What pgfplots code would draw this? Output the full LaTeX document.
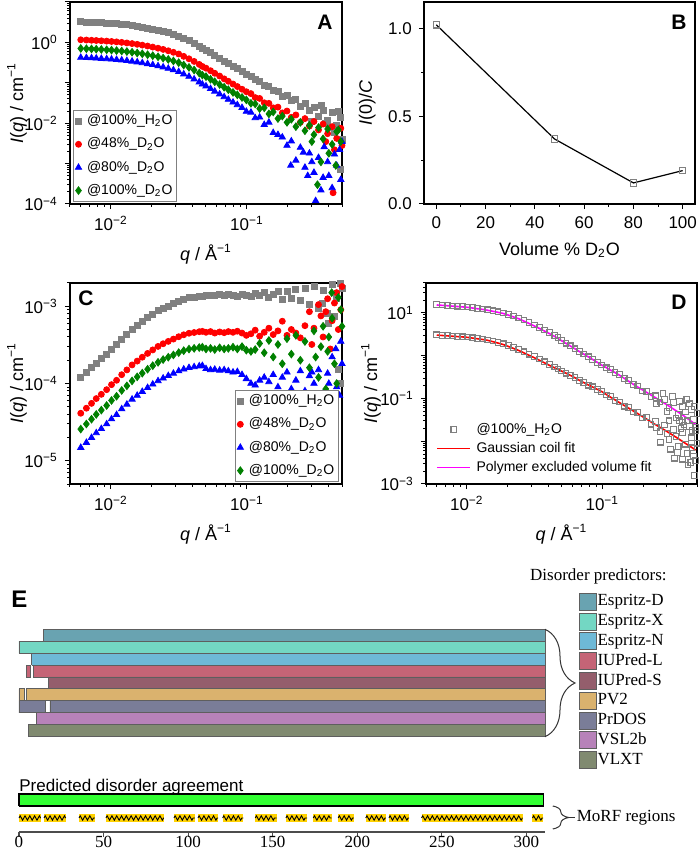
\documentclass[border=0pt]{standalone}
\usepackage{fontspec}
\setmainfont{Liberation Sans}
\newfontfamily\seriff{Liberation Serif}
\usepackage{pgfplots}
\pgfplotsset{compat=1.18}
\usetikzlibrary{decorations.pathreplacing,decorations.pathmorphing}

\definecolor{cgray}{RGB}{128,128,128}
\definecolor{cred}{RGB}{255,0,0}
\definecolor{cblue}{RGB}{0,0,255}
\definecolor{cgreen}{RGB}{0,128,0}
\definecolor{cmag}{RGB}{255,0,255}
\definecolor{espD}{HTML}{69A3B1}
\definecolor{espX}{HTML}{73D7C3}
\definecolor{espN}{HTML}{6EB9D7}
\definecolor{iupL}{HTML}{C56476}
\definecolor{iupS}{HTML}{945E6C}
\definecolor{pvtwo}{HTML}{DAB26E}
\definecolor{prdos}{HTML}{7A7D98}
\definecolor{vsl}{HTML}{B782B9}
\definecolor{vlxt}{HTML}{808A70}
\definecolor{barline}{HTML}{5E5E5E}
\definecolor{agree}{HTML}{32FF32}
\definecolor{morf}{HTML}{FFD200}

\pgfplotsset{
  panelstyle/.style={
    scale only axis, tick pos=left, tick align=outside,
    axis line style={line width=0.6pt},
    major tick length=2.6pt, minor tick length=1.5pt,
    every tick/.style={line width=0.5pt, black},
    tick label style={font=\fontsize{8.5}{10}\selectfont},
    label style={font=\fontsize{9}{11}\selectfont},
    legend cell align=left,
    legend style={font=\fontsize{7}{8}\selectfont,
      inner sep=1pt, nodes={inner sep=1.2pt},
      /tikz/every odd column/.append style={column sep=1.5pt}},
  },
  grayset/.style={only marks, mark=square*, mark size=1.5pt, color=cgray},
  redset/.style={only marks, mark=*, mark size=1.5pt, color=cred},
  blueset/.style={only marks, mark=triangle*, mark size=1.8pt, color=cblue},
  greenset/.style={only marks, mark=diamond*, mark size=1.9pt, color=cgreen},
  morfrow/.style={draw=morf, line width=4pt, forget plot,
    postaction={draw=black, line width=0.45pt, decorate,
      decoration={zigzag, segment length=2.4pt, amplitude=1.1pt}}},
}
\tikzset{
  panelletter/.style={inner sep=0pt, font=\bfseries\fontsize{10.5}{12}\selectfont},
  predbar/.style={draw=barline, line width=0.4pt, fill=#1},
}

\begin{document}
\begin{tikzpicture}
\path[use as bounding box] (0,0) rectangle (350pt,427.5pt);

% ---------------- A
\begin{axis}[panelstyle, at={(35pt,325.5pt)}, width=136pt, height=101pt,
  xmode=log, ymode=log, xmin=0.005, xmax=0.5, ymin=1e-4, ymax=10,
  xtick={0.01,0.1}, xticklabels={10\textsuperscript{−2},10\textsuperscript{−1}},
  minor xtick={0.005,0.006,0.007,0.008,0.009,0.02,0.03,0.04,0.05,0.06,0.07,0.08,0.09,0.2,0.3,0.4,0.5},
  ytick={1e-4,1e-3,1e-2,1e-1,1,10},
  yticklabels={10\textsuperscript{−4},,10\textsuperscript{−2},,10\textsuperscript{0},},
  minor ytick={2e-4,3e-4,4e-4,5e-4,6e-4,7e-4,8e-4,9e-4,2e-3,3e-3,4e-3,5e-3,6e-3,7e-3,8e-3,9e-3,
    0.02,0.03,0.04,0.05,0.06,0.07,0.08,0.09,0.2,0.3,0.4,0.5,0.6,0.7,0.8,0.9,2,3,4,5,6,7,8,9},
  xlabel={\textit{q} / Å\textsuperscript{−1}},
  ylabel={\textit{I}(\textit{q}) / cm\textsuperscript{−1}},
  ylabel style={at={(rel axis cs:-0.195,0.5)}, anchor=center},
  legend image code/.code={\draw[mark repeat=2,mark phase=2,#1] plot coordinates {(0pt,0pt)(3.5pt,0pt)(7pt,0pt)};},
  legend style={at={(0.011,0.01)}, anchor=south west, row sep=2.6pt, draw=cgray, line width=0.4pt, fill=white},
]
\addplot[grayset] coordinates {
(0.0060,3.25)(0.0066,3.21)(0.0072,3.16)(0.0078,3.12)(0.0085,3.07)(0.0093,3.01)(0.0101,2.95)(0.0110,2.88)
(0.0120,2.80)(0.0131,2.72)(0.0143,2.62)(0.0156,2.51)(0.0170,2.40)(0.0186,2.27)(0.0203,2.15)(0.0222,2.01)
(0.0242,1.88)(0.0264,1.74)(0.0288,1.59)(0.0315,1.44)(0.0343,1.26)(0.0375,1.10)(0.0409,0.948)(0.0446,0.798)
(0.0470,0.711)(0.050,0.640)(0.054,0.552)(0.058,0.476)(0.063,0.406)(0.068,0.346)(0.073,0.299)(0.079,0.255)
(0.085,0.221)(0.092,0.189)(0.099,0.163)(0.107,0.140)(0.115,0.121)(0.124,0.110)(0.134,0.088)(0.145,0.082)
(0.156,0.064)(0.169,0.062)(0.182,0.047)(0.197,0.050)(0.212,0.036)(0.229,0.038)(0.247,0.026)(0.267,0.031)
(0.288,0.021)(0.311,0.024)(0.336,0.015)(0.363,0.021)(0.392,0.012)(0.423,0.018)(0.457,0.009)(0.490,0.014)
(0.30,0.011)(0.35,0.027)(0.41,0.008)(0.47,0.020)(0.44,0.006)(0.38,0.010)(0.50,0.004)(0.49,0.0007)
};
\addlegendentry{@100\%\_H\textsubscript{2}O\hspace{7pt}}
\addplot[redset] coordinates {
(0.0060,1.16)(0.0066,1.144)(0.0072,1.128)(0.0078,1.113)(0.0085,1.095)(0.0093,1.075)(0.0101,1.053)(0.0110,1.029)
(0.0120,1.001)(0.0131,0.969)(0.0143,0.934)(0.0156,0.896)(0.0170,0.856)(0.0186,0.812)(0.0203,0.766)(0.0222,0.718)
(0.0242,0.671)(0.0264,0.620)(0.0288,0.568)(0.0315,0.516)(0.0343,0.451)(0.0375,0.393)(0.0409,0.338)(0.0446,0.285)
(0.0470,0.254)(0.050,0.230)(0.054,0.199)(0.058,0.172)(0.063,0.147)(0.068,0.125)(0.073,0.109)(0.079,0.093)
(0.085,0.0807)(0.092,0.0692)(0.099,0.0601)(0.107,0.054)(0.115,0.043)(0.124,0.041)(0.134,0.032)(0.145,0.031)
(0.156,0.024)(0.169,0.025)(0.182,0.018)(0.197,0.020)(0.212,0.014)(0.229,0.016)(0.247,0.0105)(0.267,0.013)
(0.288,0.0085)(0.311,0.011)(0.336,0.0068)(0.363,0.0095)(0.392,0.0055)(0.423,0.0082)(0.457,0.0042)(0.490,0.0075)
(0.44,0.0022)(0.43,0.00019)(0.38,0.0035)(0.50,0.0028)
};
\addlegendentry{@48\%\_D\textsubscript{2}O}
\addplot[blueset] coordinates {
(0.0060,0.422)(0.0066,0.416)(0.0072,0.410)(0.0078,0.405)(0.0085,0.398)(0.0093,0.391)(0.0101,0.383)(0.0110,0.374)
(0.0120,0.364)(0.0131,0.353)(0.0143,0.340)(0.0156,0.326)(0.0170,0.311)(0.0186,0.295)(0.0203,0.279)(0.0222,0.261)
(0.0242,0.244)(0.0264,0.226)(0.0288,0.207)(0.0315,0.188)(0.0343,0.164)(0.0375,0.143)(0.0409,0.123)(0.0446,0.104)
(0.0470,0.092)(0.050,0.0828)(0.054,0.0714)(0.058,0.0615)(0.063,0.0524)(0.068,0.0447)(0.073,0.0386)(0.079,0.0329)
(0.085,0.0284)(0.092,0.0242)(0.099,0.0195)(0.107,0.0185)(0.115,0.0135)(0.124,0.0140)(0.134,0.0092)(0.145,0.0105)
(0.156,0.0058)(0.169,0.0052)(0.182,0.0045)(0.197,0.0028)(0.212,0.0036)(0.229,0.0012)(0.247,0.0025)(0.267,0.0008)
(0.288,0.0018)(0.311,0.0006)(0.336,0.0014)(0.363,0.00045)(0.392,0.0011)(0.423,0.00025)(0.457,0.0009)(0.490,0.0004)
(0.21,0.0009)(0.26,0.0019)(0.30,0.0011)(0.32,0.00012)(0.37,0.0026)(0.40,0.0005)(0.44,0.0017)(0.48,0.0022)
(0.50,0.0035)(0.35,0.00022)(0.28,0.0005)
};
\addlegendentry{@80\%\_D\textsubscript{2}O}
\addplot[greenset] coordinates {
(0.0060,0.708)(0.0066,0.698)(0.0072,0.689)(0.0078,0.679)(0.0085,0.668)(0.0093,0.656)(0.0101,0.643)(0.0110,0.628)
(0.0120,0.611)(0.0131,0.592)(0.0143,0.570)(0.0156,0.547)(0.0170,0.522)(0.0186,0.495)(0.0203,0.468)(0.0222,0.439)
(0.0242,0.409)(0.0264,0.379)(0.0288,0.347)(0.0315,0.315)(0.0343,0.275)(0.0375,0.240)(0.0409,0.207)(0.0446,0.174)
(0.0470,0.155)(0.050,0.142)(0.054,0.122)(0.058,0.106)(0.063,0.0906)(0.068,0.0776)(0.073,0.0674)(0.079,0.0578)
(0.085,0.0503)(0.092,0.0433)(0.099,0.0378)(0.107,0.031)(0.115,0.030)(0.124,0.023)(0.134,0.024)(0.145,0.017)
(0.156,0.019)(0.169,0.013)(0.182,0.015)(0.197,0.0105)(0.212,0.0125)(0.229,0.0082)(0.247,0.0105)(0.267,0.0065)
(0.288,0.0088)(0.311,0.0052)(0.336,0.0078)(0.363,0.0041)(0.392,0.0072)(0.423,0.0030)(0.457,0.0062)(0.490,0.0035)
(0.35,0.0011)(0.40,0.0018)(0.45,0.0009)(0.47,0.0068)(0.30,0.0035)(0.33,0.0003)
};
\addlegendentry{@100\%\_D\textsubscript{2}O}
\node[panelletter, anchor=north east, xshift=-4.5pt, yshift=-6.5pt] at (rel axis cs:1,1) {A};
\end{axis}

% ---------------- B
\begin{axis}[panelstyle, at={(212pt,325.5pt)}, width=135.5pt, height=101pt,
  xmin=-5, xmax=105, ymin=0, ymax=1.15,
  xtick={0,20,40,60,80,100}, minor xtick={10,30,50,70,90},
  ytick={0,0.5,1}, minor ytick={0.25,0.75},
  xticklabels={0,20,40,60,80,100},
  yticklabels={0.0,0.5,1.0},
  xlabel={Volume \% D\textsubscript{2}O},
  ylabel={\textit{I}(0)/\textit{C}},
  ylabel style={at={(rel axis cs:-0.21,0.5)}, anchor=center},
]
\addplot[black, line width=0.6pt, mark=square, mark size=1.6pt,
  mark options={draw=cgray, fill=white, line width=0.6pt}] coordinates {
(0,1.02)(48,0.37)(80,0.12)(100,0.19)
};
\node[panelletter, anchor=north east, xshift=-4pt, yshift=-6.5pt] at (rel axis cs:1,1) {B};
\end{axis}

% ---------------- C
\begin{axis}[panelstyle, at={(35pt,185.5pt)}, width=136pt, height=100.5pt,
  xmode=log, ymode=log, xmin=0.005, xmax=0.5, ymin=5e-6, ymax=2e-3,
  xtick={0.01,0.1}, xticklabels={10\textsuperscript{−2},10\textsuperscript{−1}},
  minor xtick={0.005,0.006,0.007,0.008,0.009,0.02,0.03,0.04,0.05,0.06,0.07,0.08,0.09,0.2,0.3,0.4,0.5},
  ytick={1e-5,1e-4,1e-3},
  yticklabels={10\textsuperscript{−5},10\textsuperscript{−4},10\textsuperscript{−3}},
  minor ytick={5e-6,6e-6,7e-6,8e-6,9e-6,2e-5,3e-5,4e-5,5e-5,6e-5,7e-5,8e-5,9e-5,
    2e-4,3e-4,4e-4,5e-4,6e-4,7e-4,8e-4,9e-4,2e-3},
  xlabel={\textit{q} / Å\textsuperscript{−1}},
  ylabel={\textit{I}(\textit{q}) / cm\textsuperscript{−1}},
  ylabel style={at={(rel axis cs:-0.195,0.5)}, anchor=center},
  legend image code/.code={\draw[mark repeat=2,mark phase=2,#1] plot coordinates {(0pt,0pt)(3.5pt,0pt)(7pt,0pt)};},
  legend style={at={(0.989,0.01)}, anchor=south east, row sep=2.6pt, draw=cgray, line width=0.4pt, fill=white},
]
\addplot[grayset] coordinates {
(0.0060,1.19e-4)(0.0066,1.38e-4)(0.0072,1.60e-4)(0.0078,1.84e-4)(0.0085,2.09e-4)(0.0093,2.40e-4)(0.0101,2.79e-4)
(0.0110,3.16e-4)(0.0120,3.76e-4)(0.0131,4.32e-4)(0.0143,5.01e-4)(0.0156,5.62e-4)(0.0170,6.31e-4)(0.0186,7.08e-4)
(0.0203,7.85e-4)(0.0222,8.71e-4)(0.0242,9.44e-4)(0.0264,1.01e-3)(0.0288,1.08e-3)(0.0315,1.16e-3)(0.0343,1.23e-3)
(0.0375,1.29e-3)(0.0409,1.32e-3)(0.0446,1.35e-3)(0.0470,1.36e-3)(0.050,1.37e-3)(0.054,1.40e-3)(0.058,1.38e-3)
(0.063,1.41e-3)(0.068,1.37e-3)(0.073,1.42e-3)(0.079,1.39e-3)(0.085,1.36e-3)(0.092,1.43e-3)(0.099,1.38e-3)
(0.107,1.33e-3)(0.115,1.45e-3)(0.124,1.37e-3)(0.134,1.50e-3)(0.145,1.30e-3)(0.156,1.42e-3)(0.169,1.58e-3)
(0.182,1.22e-3)(0.197,1.55e-3)(0.212,1.28e-3)(0.229,1.66e-3)(0.247,1.18e-3)(0.267,1.72e-3)(0.288,1.05e-3)
(0.311,1.80e-3)(0.336,0.95e-3)(0.363,1.62e-3)(0.392,0.80e-3)(0.423,1.90e-3)(0.457,1.25e-3)(0.490,2.0e-3)
(0.47,1.5e-4)(0.49,1.0e-4)(0.40,6e-4)(0.44,7.5e-4)(0.36,1.1e-3)(0.50,1.7e-3)(0.45,2.1e-3)
};
\addlegendentry{@100\%\_H\textsubscript{2}O\hspace{3pt}}
\addplot[redset] coordinates {
(0.0060,4.12e-5)(0.0066,4.79e-5)(0.0072,5.53e-5)(0.0078,6.38e-5)(0.0085,7.24e-5)(0.0093,8.32e-5)(0.0101,9.66e-5)
(0.0110,1.10e-4)(0.0120,1.30e-4)(0.0131,1.50e-4)(0.0143,1.74e-4)(0.0156,1.95e-4)(0.0170,2.19e-4)(0.0186,2.45e-4)
(0.0203,2.72e-4)(0.0222,3.02e-4)(0.0242,3.27e-4)(0.0264,3.51e-4)(0.0288,3.76e-4)(0.0315,4.03e-4)(0.0343,4.27e-4)
(0.0375,4.47e-4)(0.0409,4.57e-4)(0.0446,4.68e-4)(0.0470,4.73e-4)(0.050,4.6e-4)(0.054,4.7e-4)(0.058,4.5e-4)
(0.063,4.65e-4)(0.068,4.55e-4)(0.073,4.7e-4)(0.079,4.6e-4)(0.085,4.75e-4)(0.092,4.5e-4)(0.099,4.2e-4)
(0.107,4.4e-4)(0.115,4.9e-4)(0.124,4.1e-4)(0.134,4.6e-4)(0.145,5.2e-4)(0.156,4.3e-4)(0.169,4.8e-4)
(0.182,6.4e-4)(0.197,4.2e-4)(0.212,5.0e-4)(0.229,4.5e-4)(0.247,3.9e-4)(0.267,5.6e-4)(0.288,8.5e-4)
(0.311,5.2e-4)(0.336,1.05e-3)(0.363,4.0e-4)(0.392,1.25e-3)(0.423,6.5e-4)(0.457,1.5e-3)(0.490,9.0e-4)
(0.35,7.5e-4)(0.41,2.8e-4)(0.44,1.1e-3)(0.47,5.0e-4)(0.38,8.5e-4)(0.30,3.2e-4)(0.50,1.8e-3)
};
\addlegendentry{@48\%\_D\textsubscript{2}O}
\addplot[blueset] coordinates {
(0.0060,1.48e-5)(0.0066,1.72e-5)(0.0072,1.99e-5)(0.0078,2.29e-5)(0.0085,2.60e-5)(0.0093,2.99e-5)(0.0101,3.47e-5)
(0.0110,3.94e-5)(0.0120,4.68e-5)(0.0131,5.37e-5)(0.0143,6.24e-5)(0.0156,7.00e-5)(0.0170,7.85e-5)(0.0186,8.81e-5)
(0.0203,9.77e-5)(0.0222,1.08e-4)(0.0242,1.17e-4)(0.0264,1.26e-4)(0.0288,1.35e-4)(0.0315,1.45e-4)(0.0343,1.53e-4)
(0.0375,1.60e-4)(0.0409,1.64e-4)(0.0446,1.68e-4)(0.0470,1.70e-4)(0.050,1.55e-4)(0.054,1.5e-4)(0.058,1.52e-4)
(0.063,1.48e-4)(0.068,1.5e-4)(0.073,1.45e-4)(0.079,1.4e-4)(0.085,1.42e-4)(0.092,1.3e-4)(0.099,1.15e-4)
(0.107,1.0e-4)(0.115,9.5e-5)(0.124,1.1e-4)(0.134,1.2e-4)(0.145,1.05e-4)(0.156,1.3e-4)(0.169,9.0e-5)
(0.182,1.2e-4)(0.197,1.4e-4)(0.212,8.5e-5)(0.229,1.1e-4)(0.247,1.45e-4)(0.267,8.0e-5)(0.288,1.25e-4)
(0.311,1.0e-4)(0.336,1.5e-4)(0.363,7.5e-5)(0.392,1.35e-4)(0.423,2.2e-4)(0.457,9.0e-5)(0.490,3.5e-4)
(0.45,2.8e-4)(0.48,7.0e-5)(0.40,1.0e-4)(0.50,1.8e-4)(0.30,1.4e-4)
};
\addlegendentry{@80\%\_D\textsubscript{2}O}
\addplot[greenset] coordinates {
(0.0060,2.57e-5)(0.0066,2.99e-5)(0.0072,3.45e-5)(0.0078,3.98e-5)(0.0085,4.52e-5)(0.0093,5.19e-5)(0.0101,6.03e-5)
(0.0110,6.84e-5)(0.0120,8.13e-5)(0.0131,9.33e-5)(0.0143,1.08e-4)(0.0156,1.22e-4)(0.0170,1.36e-4)(0.0186,1.53e-4)
(0.0203,1.70e-4)(0.0222,1.88e-4)(0.0242,2.04e-4)(0.0264,2.19e-4)(0.0288,2.34e-4)(0.0315,2.51e-4)(0.0343,2.66e-4)
(0.0375,2.79e-4)(0.0409,2.85e-4)(0.0446,2.92e-4)(0.0470,2.95e-4)(0.050,2.8e-4)(0.054,2.85e-4)(0.058,2.75e-4)
(0.063,2.9e-4)(0.068,2.8e-4)(0.073,2.85e-4)(0.079,2.95e-4)(0.085,2.8e-4)(0.092,3.0e-4)(0.099,2.7e-4)
(0.107,2.6e-4)(0.115,2.75e-4)(0.124,3.3e-4)(0.134,2.5e-4)(0.145,3.6e-4)(0.156,2.2e-4)(0.169,3.2e-4)
(0.182,1.8e-4)(0.197,3.8e-4)(0.212,2.4e-4)(0.229,4.2e-4)(0.247,2.0e-4)(0.267,3.5e-4)(0.288,1.6e-4)
(0.311,4.8e-4)(0.336,1.2e-4)(0.363,5.5e-4)(0.392,2.6e-4)(0.423,7.0e-4)(0.457,1.0e-4)(0.490,9.0e-4)
(0.35,3.0e-4)(0.40,4.0e-4)(0.44,1.8e-4)(0.47,1.3e-3)(0.32,2.2e-4)(0.50,5.5e-4)(0.38,8.5e-5)(0.42,1.5e-3)
};
\addlegendentry{@100\%\_D\textsubscript{2}O}
\node[panelletter, anchor=north west, xshift=4pt, yshift=-3.5pt] at (rel axis cs:0,1) {C};
\end{axis}

% ---------------- D
\begin{axis}[panelstyle, at={(213pt,185.5pt)}, width=135.5pt, height=100.5pt,
  xmode=log, ymode=log, xmin=0.005, xmax=0.5, ymin=1e-3, ymax=50,
  xtick={0.01,0.1}, xticklabels={10\textsuperscript{−2},10\textsuperscript{−1}},
  minor xtick={0.005,0.006,0.007,0.008,0.009,0.02,0.03,0.04,0.05,0.06,0.07,0.08,0.09,0.2,0.3,0.4,0.5},
  ytick={1e-3,1e-2,1e-1,1,10},
  yticklabels={10\textsuperscript{−3},,10\textsuperscript{−1},,10\textsuperscript{1}},
  minor ytick={2e-3,3e-3,4e-3,5e-3,6e-3,7e-3,8e-3,9e-3,0.02,0.03,0.04,0.05,0.06,0.07,0.08,0.09,
    0.2,0.3,0.4,0.5,0.6,0.7,0.8,0.9,2,3,4,5,6,7,8,9,20,30,40,50},
  xlabel={\textit{q} / Å\textsuperscript{−1}},
  ylabel={\textit{I}(\textit{q}) / cm\textsuperscript{−1}},
  ylabel style={at={(rel axis cs:-0.203,0.5)}, anchor=center},
  legend image code/.code={\draw[mark repeat=2,mark phase=2,#1] plot coordinates {(0pt,0pt)(8.25pt,0pt)(16.5pt,0pt)};},
  legend style={at={(0.03,0.025)}, anchor=south west, draw=none, fill=none, row sep=0.5pt},
]
\addlegendimage{only marks, mark=square, mark size=1.4pt, color=cgray, mark options={line width=0.55pt}}
\addlegendentry{@100\%\_H\textsubscript{2}O}
\addlegendimage{color=cred, line width=0.8pt}
\addlegendentry{Gaussian coil fit}
\addlegendimage{color=cmag, line width=0.8pt}
\addlegendentry{Polymer excluded volume fit}
\addplot[only marks, mark=square, mark size=1.4pt, color=cgray, mark options={line width=0.55pt}, forget plot] coordinates {
(0.0060,3.08)(0.0066,3.00)(0.0072,2.93)(0.0078,2.87)(0.0085,2.82)(0.0093,2.76)(0.0101,2.71)(0.0110,2.62)
(0.0120,2.53)(0.0131,2.44)(0.0143,2.34)(0.0156,2.19)(0.0170,2.04)(0.0186,1.89)(0.0203,1.72)(0.0222,1.55)
(0.0242,1.39)(0.0264,1.23)(0.0288,1.08)(0.0315,0.95)(0.0343,0.83)(0.0375,0.72)(0.0409,0.62)(0.0446,0.54)
(0.0470,0.49)(0.050,0.44)(0.054,0.39)(0.058,0.345)(0.063,0.305)(0.068,0.262)(0.073,0.236)(0.079,0.204)
(0.085,0.187)(0.092,0.160)(0.099,0.147)(0.107,0.121)(0.115,0.110)(0.124,0.090)(0.134,0.083)(0.145,0.066)
(0.156,0.062)(0.169,0.048)(0.182,0.047)(0.197,0.035)(0.212,0.037)(0.229,0.025)(0.247,0.029)(0.267,0.017)
(0.288,0.024)(0.311,0.011)(0.336,0.019)(0.363,0.0075)(0.392,0.016)(0.423,0.0052)(0.457,0.012)(0.490,0.0035)
(0.25,0.021)(0.32,0.0065)(0.37,0.030)(0.41,0.0085)(0.44,0.022)(0.47,0.0045)(0.35,0.013)(0.48,0.0016)
(0.43,0.0028)(0.50,0.009)(0.39,0.0038)(0.46,0.007)(0.30,0.015)(0.27,0.0095)(0.34,0.004)(0.40,0.024)
(0.45,0.0032)(0.49,0.018)(0.36,0.0055)
};
\addplot[only marks, mark=square, mark size=1.4pt, color=cgray, mark options={line width=0.55pt}, forget plot] coordinates {
(0.0060,15.6)(0.0066,15.2)(0.0072,14.9)(0.0078,14.6)(0.0085,14.3)(0.0093,14.0)(0.0101,13.7)(0.0110,13.2)
(0.0120,12.8)(0.0131,12.3)(0.0143,11.8)(0.0156,11.2)(0.0170,10.6)(0.0186,10.0)(0.0203,9.2)(0.0222,8.4)
(0.0242,7.6)(0.0264,6.8)(0.0288,6.0)(0.0315,5.25)(0.0343,4.6)(0.0375,4.0)(0.0409,3.45)(0.0446,2.95)
(0.0470,2.65)(0.050,2.27)(0.054,1.96)(0.058,1.70)(0.063,1.45)(0.068,1.24)(0.073,1.10)(0.079,0.94)
(0.085,0.82)(0.092,0.70)(0.099,0.61)(0.107,0.52)(0.115,0.47)(0.124,0.40)(0.134,0.36)(0.145,0.29)
(0.156,0.265)(0.169,0.21)(0.182,0.195)(0.197,0.15)(0.212,0.145)(0.229,0.11)(0.247,0.115)(0.267,0.083)
(0.288,0.095)(0.311,0.062)(0.336,0.080)(0.363,0.042)(0.392,0.065)(0.423,0.030)(0.457,0.055)(0.490,0.021)
(0.25,0.075)(0.30,0.050)(0.33,0.110)(0.37,0.085)(0.41,0.048)(0.44,0.075)(0.47,0.032)(0.50,0.045)
(0.35,0.035)(0.39,0.028)(0.46,0.018)(0.28,0.130)(0.42,0.095)(0.48,0.065)(0.31,0.030)(0.38,0.020)
};
\addplot[color=cred, line width=0.8pt, forget plot] coordinates {
(0.0060,3.03)(0.0066,2.96)(0.0072,2.90)(0.0078,2.85)(0.0085,2.79)(0.0093,2.74)(0.0101,2.68)(0.0110,2.58)
(0.0120,2.48)(0.0131,2.39)(0.0143,2.28)(0.0156,2.12)(0.0170,1.97)(0.0186,1.82)(0.0203,1.64)(0.0222,1.47)
(0.0242,1.32)(0.0264,1.16)(0.0288,1.02)(0.0315,0.895)(0.0343,0.783)(0.0375,0.679)(0.0409,0.590)(0.0446,0.518)
(0.0470,0.479)(0.050,0.437)(0.054,0.390)(0.058,0.348)(0.063,0.303)(0.068,0.264)(0.073,0.235)(0.079,0.206)
(0.085,0.185)(0.092,0.163)(0.099,0.145)(0.107,0.124)(0.115,0.107)(0.124,0.0929)(0.134,0.0796)(0.145,0.0686)
(0.156,0.0596)(0.169,0.0512)(0.182,0.0445)(0.197,0.0381)(0.212,0.0330)(0.229,0.0282)(0.247,0.0244)(0.267,0.0210)
(0.288,0.0183)(0.311,0.0157)(0.336,0.0135)(0.363,0.0115)(0.392,0.00982)(0.423,0.00839)(0.457,0.00716)(0.490,0.00621)
};
\addplot[color=cmag, line width=0.8pt, forget plot] coordinates {
(0.0060,15.3)(0.0066,15.0)(0.0072,14.7)(0.0078,14.4)(0.0085,14.1)(0.0093,13.8)(0.0101,13.5)(0.0110,13.0)
(0.0120,12.5)(0.0131,12.05)(0.0143,11.5)(0.0156,10.9)(0.0170,10.3)(0.0186,9.70)(0.0203,8.85)(0.0222,8.02)
(0.0242,7.29)(0.0264,6.43)(0.0288,5.66)(0.0315,4.95)(0.0343,4.34)(0.0375,3.75)(0.0409,3.26)(0.0446,2.80)
(0.0470,2.53)(0.050,2.24)(0.054,1.94)(0.058,1.69)(0.063,1.44)(0.068,1.24)(0.073,1.09)(0.079,0.933)
(0.085,0.813)(0.092,0.697)(0.099,0.604)(0.107,0.526)(0.115,0.460)(0.124,0.404)(0.134,0.348)(0.145,0.296)
(0.156,0.255)(0.169,0.215)(0.182,0.186)(0.197,0.160)(0.212,0.139)(0.229,0.120)(0.247,0.104)(0.267,0.0891)
(0.288,0.0771)(0.311,0.0659)(0.336,0.0562)(0.363,0.0479)(0.392,0.0408)(0.423,0.0344)(0.457,0.0287)(0.490,0.0244)
};
\node[panelletter, anchor=north east, xshift=-5pt, yshift=-6pt] at (rel axis cs:1,1) {D};
\end{axis}

% ---------------- E
\node[anchor=base west, inner sep=0pt, font=\bfseries\fontsize{12}{14}\selectfont] at (5.5pt,123.5pt) {E};
\begin{axis}[at={(9.5pt,11.65pt)}, anchor=south west, scale only axis,
  width=263pt, height=101.5pt,
  xmin=0, xmax=311, ymin=0, ymax=203, clip=false,
  axis y line=none, axis x line*=bottom,
  axis line style={line width=0.8pt, black!70},
  xtick={0,50,100,150,200,250,300}, tick align=outside, major tick length=2.5pt,
  xticklabels={0,50,100,150,200,250,300},
  xtick style={line width=0.6pt, black!70},
  tick label style={font=\seriff\fontsize{8.5}{10}\selectfont},
  xticklabel style={inner sep=0.5pt, yshift=1pt},
  legend cell align=left,
  legend image code/.code={\draw[#1] (0pt,-4.25pt) rectangle (8.5pt,4.25pt);},
  legend style={at={(1.063,1.179)}, anchor=north west, draw=none, fill=none,
    inner sep=0pt, row sep=1pt, nodes={inner sep=0.6pt},
    font=\seriff\fontsize{8.5}{9.5}\selectfont},
]
\addplot[predbar=espD] coordinates {(14.4,190.5)(311,190.5)(311,202.4)(14.4,202.4)(14.4,190.5)};
\addlegendentry{Espritz-D}
\addplot[predbar=espX] coordinates {(0,178.5)(311,178.5)(311,190.5)(0,190.5)(0,178.5)};
\addlegendentry{Espritz-X}
\addplot[predbar=espN] coordinates {(7.5,166.6)(311,166.6)(311,178.5)(7.5,178.5)(7.5,166.6)};
\addlegendentry{Espritz-N}
\addplot[predbar=iupL] coordinates {(8.3,154.7)(311,154.7)(311,166.6)(8.3,166.6)(8.3,154.7)};
\addlegendentry{IUPred-L}
\addplot[predbar=iupL, forget plot] coordinates {(4.3,154.7)(6.5,154.7)(6.5,166.6)(4.3,166.6)(4.3,154.7)};
\addplot[predbar=iupS] coordinates {(17.5,142.8)(311,142.8)(311,154.7)(17.5,154.7)(17.5,142.8)};
\addlegendentry{IUPred-S}
\addplot[predbar=pvtwo] coordinates {(4.3,130.9)(311,130.9)(311,142.8)(4.3,142.8)(4.3,130.9)};
\addlegendentry{PV2}
\addplot[predbar=pvtwo, forget plot] coordinates {(0,130.9)(3.1,130.9)(3.1,142.8)(0,142.8)(0,130.9)};
\addplot[predbar=prdos] coordinates {(18.3,118.9)(311,118.9)(311,130.9)(18.3,130.9)(18.3,118.9)};
\addlegendentry{PrDOS}
\addplot[predbar=prdos, forget plot] coordinates {(0,118.9)(15.4,118.9)(15.4,130.9)(0,130.9)(0,118.9)};
\addplot[predbar=vsl] coordinates {(10.4,107.0)(311,107.0)(311,118.9)(10.4,118.9)(10.4,107.0)};
\addlegendentry{VSL2b}
\addplot[predbar=vlxt] coordinates {(5.5,95.0)(311,95.0)(311,107.0)(5.5,107.0)(5.5,95.0)};
\addlegendentry{VLXT}
\addplot[draw=black, line width=0.6pt, fill=agree, forget plot] coordinates {(0,25.7)(310,25.7)(310,37.7)(0,37.7)(0,25.7)};
\addplot[morfrow] coordinates {(0,13.7)(12.8,13.7)};
\addplot[morfrow] coordinates {(14.8,13.7)(27.6,13.7)};
\addplot[morfrow] coordinates {(35.5,13.7)(44.9,13.7)};
\addplot[morfrow] coordinates {(51.4,13.7)(85.7,13.7)};
\addplot[morfrow] coordinates {(91.6,13.7)(104.0,13.7)};
\addplot[morfrow] coordinates {(105.8,13.7)(117.8,13.7)};
\addplot[morfrow] coordinates {(120.4,13.7)(132.6,13.7)};
\addplot[morfrow] coordinates {(139.7,13.7)(152.3,13.7)};
\addplot[morfrow] coordinates {(157.8,13.7)(170.4,13.7)};
\addplot[morfrow] coordinates {(174.0,13.7)(184.8,13.7)};
\addplot[morfrow] coordinates {(188.7,13.7)(198.0,13.7)};
\addplot[morfrow] coordinates {(205.0,13.7)(216.9,13.7)};
\addplot[morfrow] coordinates {(218.7,13.7)(230.7,13.7)};
\addplot[morfrow] coordinates {(238.0,13.7)(297.7,13.7)};
\addplot[morfrow] coordinates {(303.6,13.7)(309.9,13.7)};
\node[anchor=base west, inner sep=0pt, font=\fontsize{8.5}{10}\selectfont] at (axis cs:0,40) {Predicted disorder agreement};
\node[anchor=base west, inner sep=0pt, font=\seriff\fontsize{8.5}{10}\selectfont] at (axis cs:302,251) {Disorder predictors:};
\draw[decorate, decoration={brace, amplitude=15pt}, line width=0.5pt, black!80] (axis cs:311,202.4) -- (axis cs:311,95);
\draw[decorate, decoration={brace, amplitude=8pt}, line width=0.5pt, black!80] (axis cs:315.6,25.7) -- (axis cs:315.6,2.7);
\draw[line width=0.5pt, black!80] (axis cs:325.6,14.2) -- (axis cs:328.6,14.2);
\node[anchor=west, inner sep=0pt, font=\seriff\fontsize{8.5}{10}\selectfont] at (axis cs:329.6,14.2) {MoRF regions};
\end{axis}
\end{tikzpicture}
\end{document}
